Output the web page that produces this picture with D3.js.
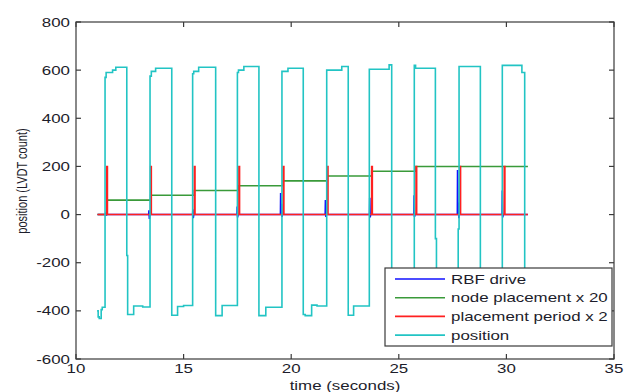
<!DOCTYPE html>
<html>
<head>
<meta charset="utf-8">
<script src="https://cdn.jsdelivr.net/npm/d3@7"></script>
<style>
  body { margin: 0; background: #fff; }
  text { font-family: "Liberation Sans", Arial, sans-serif; fill: #1d1d2b; }
</style>
</head>
<body>
<svg width="638" height="392"></svg>
<script>
// [time (s), value] pairs
const rbfDrive = [
  [11.0, 0], [11.38, 0], [11.39, 8], [11.41, -4], [11.42, 0],
  [13.38, 0], [13.39, 18], [13.41, -18], [13.44, 0],
  [15.42, 0], [15.43, 22], [15.45, -15], [15.47, 0],
  [17.48, 0], [17.49, 33], [17.51, -12], [17.53, 0],
  [19.50, 0], [19.51, 90], [19.53, 20], [19.55, 45], [19.57, -10], [19.59, 0],
  [21.58, 0], [21.59, 60], [21.61, -10], [21.63, 0],
  [23.64, 0], [23.65, 70], [23.67, -12], [23.69, 0],
  [25.70, 0], [25.71, 80], [25.73, -10], [25.75, 0],
  [27.72, 0], [27.73, 185], [27.75, 30], [27.77, 50], [27.79, -15], [27.81, 0],
  [29.80, 0], [29.81, 100], [29.83, -12], [29.85, 0],
  [31.0, 0]
];

// node placement x 20 (step after)
const nodePlacement = [
  [11.0, 0], [11.43, 60], [13.47, 80], [15.50, 100], [17.57, 120],
  [19.63, 140], [21.68, 160], [23.74, 180], [25.80, 200], [31.0, 200]
];

// placement period x 2 (step after)
const placementPeriod = [
  [11.0, 0],
  [11.43, 200], [11.46, 0], [13.47, 200], [13.50, 0],
  [15.50, 200], [15.53, 0], [17.57, 200], [17.60, 0],
  [19.63, 200], [19.66, 0], [21.68, 200], [21.71, 0],
  [23.74, 200], [23.77, 0], [25.80, 200], [25.83, 0],
  [27.84, 200], [27.87, 0], [29.90, 200], [29.93, 0],
  [31.0, 0]
];

// LVDT position (step after)
const position = [
  [10.98, -400], [11.03, -425], [11.08, -432], [11.17, -395], [11.22, -385],
  [11.35, 570], [11.40, 590], [11.70, 600], [11.85, 612],
  [12.36, -170], [12.40, -415], [12.68, -380], [13.10, -384],
  [13.44, 575], [13.50, 595], [13.70, 608],
  [14.45, -418], [14.72, -382], [15.00, -378],
  [15.42, 585], [15.47, 595], [15.70, 612],
  [16.49, -420], [16.79, -378],
  [17.50, 590], [17.55, 600], [17.80, 615],
  [18.50, -420], [18.82, -385],
  [19.57, 595], [19.85, 608],
  [20.56, -415], [20.65, -420], [20.95, -376], [21.20, -380],
  [21.65, 600], [22.35, 615],
  [22.65, -418], [22.90, -380],
  [23.63, 604], [24.55, 622],
  [24.67, -410], [24.95, -385],
  [25.72, 620], [25.78, 608],
  [26.70, -100], [26.75, -420], [27.00, -382],
  [27.76, -60], [27.80, 615],
  [28.79, -418], [29.10, -383],
  [29.81, 620], [30.72, 590],
  [30.85, -425], [31.0, -425]
];

const xTicks = [10, 15, 20, 25, 30, 35];
const yTicks = [-600, -400, -200, 0, 200, 400, 600, 800];

const series = [
  { name: "RBF drive", data: rbfDrive, color: "#1010ff", curve: d3.curveLinear },
  { name: "node placement x 20", data: nodePlacement, color: "#3a9a3a", curve: d3.curveStepAfter },
  { name: "placement period x 2", data: placementPeriod, color: "#ff2020", curve: d3.curveStepAfter },
  { name: "position", data: position, color: "#22c4c4", curve: d3.curveStepAfter }
];

const svg = d3.select("svg");
const plotLeft = 76, plotRight = 614, plotTop = 22, plotBottom = 359;
const SX = 1.3; // the figure text is stretched horizontally

const x = d3.scaleLinear().domain([10, 35]).range([plotLeft, plotRight]);
const y = d3.scaleLinear().domain([-600, 800]).range([plotBottom, plotTop]);

const plot = svg.append("g");
series.forEach(s => {
  const line = d3.line().x(d => x(d[0])).y(d => y(d[1])).curve(s.curve);
  plot.append("path")
    .datum(s.data)
    .attr("fill", "none")
    .attr("stroke", s.color)
    .attr("stroke-width", 1.6)
    .attr("d", line);
});

// frame and inward ticks
const frame = svg.append("g").attr("stroke", "#3a3a3a").attr("stroke-width", 1.2);
frame.append("rect")
  .attr("x", plotLeft).attr("y", plotTop)
  .attr("width", plotRight - plotLeft).attr("height", plotBottom - plotTop)
  .attr("fill", "none");
xTicks.forEach(t => {
  frame.append("line").attr("x1", x(t)).attr("x2", x(t)).attr("y1", plotBottom).attr("y2", plotBottom - 5);
  frame.append("line").attr("x1", x(t)).attr("x2", x(t)).attr("y1", plotTop).attr("y2", plotTop + 5);
});
yTicks.forEach(t => {
  frame.append("line").attr("x1", plotLeft).attr("x2", plotLeft + 5).attr("y1", y(t)).attr("y2", y(t));
  frame.append("line").attr("x1", plotRight).attr("x2", plotRight - 5).attr("y1", y(t)).attr("y2", y(t));
});

function label(g, tx, ty, str, size, anchor, extra) {
  return g.append("text")
    .attr("transform", `translate(${tx},${ty}) scale(${SX},1)` + (extra || ""))
    .attr("text-anchor", anchor)
    .attr("font-size", size)
    .text(str);
}

const labels = svg.append("g");
xTicks.forEach(t => label(labels, x(t), 373, t, 13, "middle"));
yTicks.forEach(t => label(labels, plotLeft - 6, y(t) + 4.5, t, 13, "end"));
label(labels, (plotLeft + plotRight) / 2, 390, "time (seconds)", 13, "middle");
label(labels, 27, 181, "position (LVDT count)", 11, "middle", " rotate(-90)");

// legend
const lg = svg.append("g");
lg.append("rect")
  .attr("x", 385).attr("y", 268).attr("width", 227).attr("height", 78)
  .attr("fill", "#fff").attr("stroke", "#3a3a3a").attr("stroke-width", 1.2);
series.forEach((s, i) => {
  const ly = 279 + i * 18.7;
  lg.append("line")
    .attr("x1", 395).attr("x2", 445).attr("y1", ly).attr("y2", ly)
    .attr("stroke", s.color).attr("stroke-width", 1.6);
  label(lg, 451, ly + 4.5, s.name, 13, "start");
});
</script>
</body>
</html>
